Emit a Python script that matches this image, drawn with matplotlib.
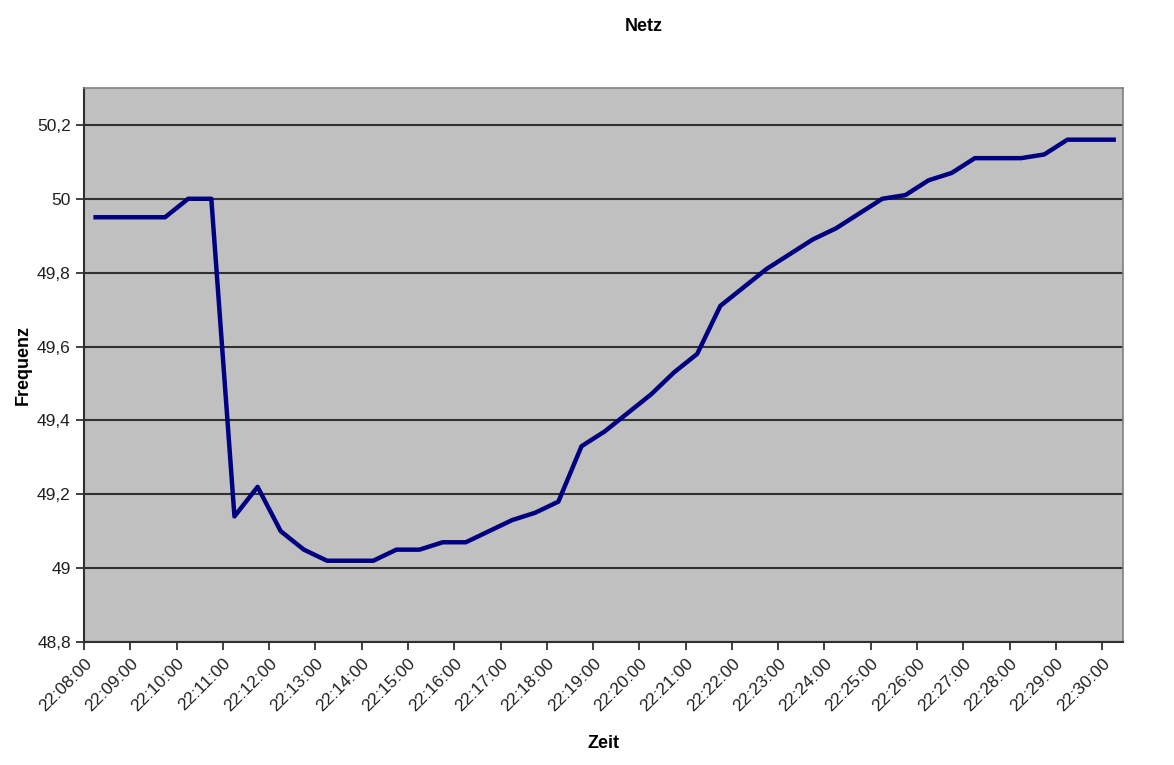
import pandas as pd
import matplotlib.pyplot as plt
import matplotlib.dates as mdates
from matplotlib.ticker import FixedLocator, FuncFormatter

start = "2006-11-04 22:08:15"
freq = [49.95, 49.95, 49.95, 49.95, 50.00, 50.00, 49.14, 49.22, 49.10, 49.05,
        49.02, 49.02, 49.02, 49.05, 49.05, 49.07, 49.07, 49.10, 49.13, 49.15,
        49.18, 49.33, 49.37, 49.42, 49.47, 49.53, 49.58, 49.71, 49.76, 49.81,
        49.85, 49.89, 49.92, 49.96, 50.00, 50.01, 50.05, 50.07, 50.11, 50.11,
        50.11, 50.12, 50.16, 50.16, 50.16]
zeit = pd.date_range(start, periods=len(freq), freq="30s")
y_ticks = [48.8, 49.0, 49.2, 49.4, 49.6, 49.8, 50.0, 50.2]

plt.rcParams['font.family'] = ['Liberation Sans', 'DejaVu Sans']

fig = plt.figure(figsize=(11.74, 7.65), dpi=100)
ax = fig.add_axes([0.0716, 0.1608, 0.8849, 0.7242])
ax.set_facecolor('#c0c0c0')

ax.plot(zeit, freq, color='#000080', lw=3.2, solid_joinstyle='round', zorder=3)

ax.set_ylim(48.8, 50.3)
ax.yaxis.set_major_locator(FixedLocator(y_ticks))
ax.yaxis.set_major_formatter(FuncFormatter(
    lambda v, p: ('%g' % round(v, 1)).replace('.', ',')))
ax.grid(axis='y', which='major', color='#303030', lw=1.5)

ax.set_xlim(pd.Timestamp("2006-11-04 22:08:00"), pd.Timestamp("2006-11-04 22:30:27"))
ax.xaxis.set_major_locator(mdates.MinuteLocator())
ax.xaxis.set_major_formatter(mdates.DateFormatter('%H:%M:%S'))
ax.xaxis.set_minor_locator(mdates.MinuteLocator(byminute=[10, 15, 20, 25]))
ax.grid(axis='x', which='minor', color='#808080', lw=1.2)
ax.tick_params(axis='x', which='minor', length=0)
ax.set_axisbelow(True)

ax.tick_params(axis='both', which='major', direction='out', length=6,
               width=1.2, color='#202020', labelsize=12.5, labelcolor='#202020')
ax.tick_params(axis='x', which='major', pad=4)
for lbl in ax.get_xticklabels():
    lbl.set_rotation(45)
    lbl.set_ha('right')
    lbl.set_rotation_mode('anchor')

for side in ['top', 'right']:
    ax.spines[side].set_color('#808080')
    ax.spines[side].set_linewidth(1.2)
for side in ['left', 'bottom']:
    ax.spines[side].set_color('#303030')
    ax.spines[side].set_linewidth(1.5)

ax.set_xlabel('Zeit', fontsize=13, fontweight='bold', labelpad=15)
ax.set_ylabel('Frequenz', fontsize=13, fontweight='bold', labelpad=4)
fig.text(0.548, 0.965, 'Netz', ha='center', va='center',
         fontsize=13, fontweight='bold')

fig.savefig('out.png', dpi=100)
